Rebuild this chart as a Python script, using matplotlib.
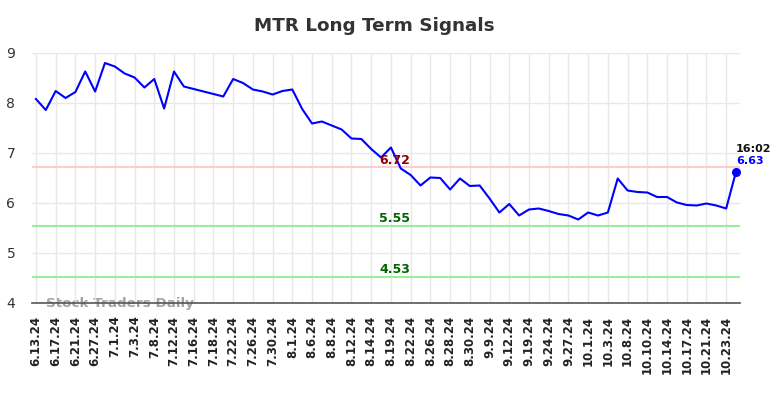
import matplotlib
matplotlib.use("Agg")
import matplotlib.pyplot as plt

dates = ["6.13.24","6.14.24","6.17.24","6.18.24","6.21.24","6.24.24","6.27.24","6.28.24",
         "7.1.24","7.2.24","7.3.24","7.5.24","7.8.24","7.9.24","7.12.24","7.15.24",
         "7.16.24","7.17.24","7.18.24","7.19.24","7.22.24","7.23.24","7.26.24","7.29.24",
         "7.30.24","7.31.24","8.1.24","8.2.24","8.6.24","8.7.24","8.8.24","8.9.24",
         "8.12.24","8.13.24","8.14.24","8.16.24","8.19.24","8.20.24","8.22.24","8.23.24",
         "8.26.24","8.27.24","8.28.24","8.29.24","8.30.24","9.6.24","9.9.24","9.10.24",
         "9.12.24","9.13.24","9.19.24","9.20.24","9.24.24","9.25.24","9.27.24","9.30.24",
         "10.1.24","10.2.24","10.3.24","10.4.24","10.8.24","10.9.24","10.10.24","10.11.24",
         "10.14.24","10.15.24","10.17.24","10.18.24","10.21.24","10.22.24","10.23.24","10.24.24"]
prices = [8.08, 7.86, 8.24, 8.10, 8.22, 8.63, 8.23, 8.80, 8.73, 8.59, 8.51, 8.31,
          8.48, 7.89, 8.63, 8.33, 8.28, 8.23, 8.18, 8.13, 8.48, 8.40, 8.27, 8.23,
          8.17, 8.24, 8.27, 7.88, 7.59, 7.63, 7.55, 7.47, 7.29, 7.28, 7.08, 6.91,
          7.11, 6.69, 6.56, 6.35, 6.51, 6.50, 6.27, 6.49, 6.34, 6.35, 6.09, 5.81,
          5.98, 5.75, 5.87, 5.89, 5.84, 5.78, 5.75, 5.67, 5.81, 5.75, 5.81, 6.49,
          6.25, 6.22, 6.21, 6.12, 6.12, 6.01, 5.96, 5.95, 5.99, 5.95, 5.89, 6.63]
levels = [6.72, 5.55, 4.53]
level_labels = ["6.72", "5.55", "4.53"]
level_line_colors = ["#ffcccc", "#99ee99", "#99ee99"]
level_text_colors = ["#8b0000", "#006400", "#006400"]
title = "MTR Long Term Signals"
last_time = "16:02"
last_label = "6.63"
yticks = [4, 5, 6, 7, 8, 9]

W, H = 784, 398
fig = plt.figure(figsize=(W/100, H/100), dpi=100)
ax = fig.add_axes([32/W, 1-303/H, (740-32)/W, (303-53)/H])

x = list(range(len(prices)))
ax.plot(x, prices, color="#0000ff", lw=1.5, zorder=3)
ax.plot(x[-1], prices[-1], "o", color="#0000ff", ms=5.5, zorder=4)

mid = 36.4
for lv, lab, lc, tc in zip(levels, level_labels, level_line_colors, level_text_colors):
    ax.axhline(lv, color=lc, lw=1.5, zorder=2)
    ax.text(mid, lv + 0.01, lab, color=tc, fontsize=9, fontweight="bold",
            ha="center", va="bottom", zorder=5)

ax.text(x[-1], prices[-1] + 0.36, last_time, color="#111111", fontsize=8,
        fontweight="bold", ha="left", va="bottom")
ax.text(x[-1], prices[-1] + 0.10, last_label, color="#0000ff", fontsize=8,
        fontweight="bold", ha="left", va="bottom")

ax.set_xlim(-0.4, 71.4)
ax.set_ylim(4, 9)
tick_idx = list(range(0, len(dates), 2))
ax.set_xticks(tick_idx)
ax.set_xticklabels([dates[i] for i in tick_idx], rotation=90, fontsize=8.5,
                   fontweight="bold", color="#222222")
ax.set_yticks(yticks)
ax.set_yticklabels([str(v) for v in yticks], fontsize=10, color="#333333")
ax.tick_params(axis="x", length=0, pad=9)
ax.tick_params(axis="y", length=0, pad=12)
ax.grid(True, color="#e8e8e8", lw=1, zorder=0)
for s in ["left", "right", "top"]:
    ax.spines[s].set_visible(False)
ax.spines["bottom"].set_color("#555555")
ax.spines["bottom"].set_linewidth(1.2)

ax.text(1, 4.0, "Stock Traders Daily", color="#999999", fontsize=9.7,
        fontweight="bold", ha="left", va="center", alpha=0.9, zorder=1)

fig.text(374/W, 1-26/H, title, ha="center", va="center", fontsize=13.2,
         fontweight="bold", color="#333333")

fig.savefig("out.png", dpi=100)
